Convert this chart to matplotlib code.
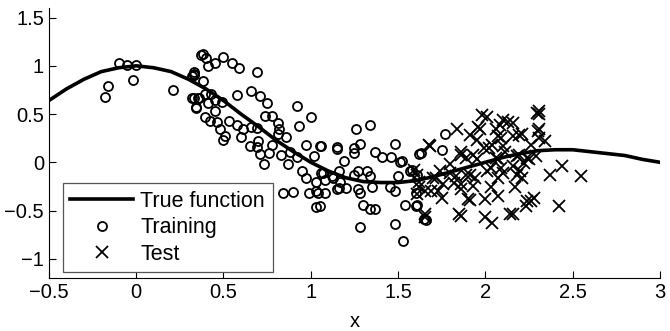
import matplotlib
matplotlib.use("Agg")
import matplotlib.pyplot as plt

plt.rcParams['font.family'] = ['Liberation Sans', 'DejaVu Sans']

# true function, every 0.1
curve_x = [-0.5, -0.4, -0.3, -0.2, -0.1, 0.0, 0.1, 0.2, 0.3, 0.4, 0.5, 0.6,
           0.7, 0.8, 0.9, 1.0, 1.1, 1.2, 1.3, 1.4, 1.5, 1.6, 1.7, 1.8,
           1.9, 2.0, 2.1, 2.2, 2.3, 2.4, 2.5, 2.6, 2.7, 2.8, 2.9, 3.0]
curve_y = [0.64, 0.76, 0.86, 0.94, 0.98, 1.0, 0.98, 0.94, 0.86, 0.76, 0.64, 0.50,
           0.37, 0.23, 0.11, 0.0, -0.09, -0.16, -0.20, -0.21, -0.21, -0.19, -0.15, -0.10,
           -0.05, 0.0, 0.05, 0.09, 0.12, 0.13, 0.13, 0.11, 0.09, 0.07, 0.03, 0.0]

train_x = [-0.10, -0.05, 0.0, -0.16, -0.18, -0.02, 0.21, 0.33, 0.32, 0.33, 0.34, 0.36,
           0.37, 0.385, 0.40, 0.45, 0.41, 0.50, 0.55, 0.59, 0.69, 0.33, 0.33, 0.385,
           0.32, 0.355, 0.395, 0.43, 0.41, 0.45, 0.49, 0.34, 0.45, 0.58, 0.66, 0.71,
           0.75, 0.92, 1.0, 0.74, 0.78, 0.395, 0.42, 0.46, 0.53, 0.58, 0.61, 0.66,
           0.69, 0.815, 0.82, 0.93, 0.48, 0.51, 0.50, 0.60, 0.815, 0.86, 0.70, 0.65,
           0.69, 0.97, 1.05, 1.15, 0.78, 0.71, 0.76, 0.73, 0.83, 0.88, 0.87, 0.92,
           1.02, 0.95, 0.97, 1.03, 1.07, 1.03, 1.04, 0.99, 1.08, 0.84, 0.90, 1.03,
           1.13, 1.15, 1.26, 1.34, 1.06, 1.15, 1.245, 1.28, 1.245, 1.19, 1.37, 1.41,
           1.46, 1.48, 1.51, 1.62, 1.06, 1.08, 1.05, 1.12, 1.16, 1.17, 1.16, 1.20,
           1.245, 1.27, 1.32, 1.34, 1.27, 1.28, 1.35, 1.30, 1.34, 1.365, 1.28, 1.455,
           1.48, 1.50, 1.54, 1.48, 1.53, 1.57, 1.61, 1.77, 1.63, 1.75, 1.52, 1.58,
           1.60, 1.65, 1.66, 1.60, 1.61]
train_y = [1.03, 1.01, 1.01, 0.79, 0.68, 0.85, 0.75, 0.92, 0.89, 0.67, 0.57, 0.67,
           1.11, 1.12, 1.08, 1.03, 1.0, 1.09, 1.03, 0.98, 0.94, 0.94, 0.90, 0.84,
           0.67, 0.67, 0.71, 0.71, 0.61, 0.65, 0.63, 0.56, 0.53, 0.70, 0.74, 0.69,
           0.61, 0.58, 0.47, 0.48, 0.48, 0.47, 0.43, 0.42, 0.43, 0.39, 0.35, 0.37,
           0.36, 0.405, 0.35, 0.38, 0.34, 0.27, 0.23, 0.26, 0.29, 0.26, 0.22, 0.165,
           0.155, 0.18, 0.165, 0.155, 0.18, 0.085, 0.10, -0.02, 0.08, 0.11, -0.02, 0.05,
           0.06, -0.09, -0.16, -0.20, -0.11, -0.30, -0.32, -0.32, -0.32, -0.32, -0.31, -0.46,
           -0.16, -0.28, 0.35, 0.39, 0.165, 0.14, 0.15, 0.19, 0.10, 0.01, 0.11, 0.05,
           0.05, 0.19, 0.0, 0.085, -0.11, -0.18, -0.45, -0.14, -0.09, -0.20, -0.27, -0.27,
           -0.13, -0.09, -0.09, -0.14, -0.28, -0.32, -0.26, -0.44, -0.48, -0.48, -0.67, -0.26,
           -0.30, -0.14, -0.44, -0.64, -0.82, -0.09, -0.44, 0.29, 0.10, 0.13, 0.01, -0.075,
           -0.45, -0.59, -0.60, -0.32, -0.13]

test_x = [1.675, 1.61, 1.59, 1.62, 1.655, 1.61, 1.70, 1.73, 1.84, 1.68, 2.01, 2.13,
          2.085, 1.97, 2.295, 2.16, 2.07, 1.95, 2.02, 2.10, 1.89, 1.86, 1.95, 2.07,
          2.18, 2.22, 1.80, 1.74, 1.83, 1.91, 2.01, 2.10, 2.18, 1.76, 1.86, 1.93,
          2.03, 1.75, 1.91, 2.07, 2.17, 2.26, 2.23, 2.14, 2.16, 1.86, 2.04, 1.62,
          1.655, 1.72, 2.31, 2.31, 2.30, 2.34, 2.21, 2.26, 2.29, 2.24, 2.20, 2.44,
          2.37, 2.55, 2.28, 2.24, 2.42, 2.21, 1.98, 1.96, 1.91, 1.86, 1.93, 1.99,
          1.80, 1.82, 1.89, 1.94, 1.86, 1.90, 1.69, 1.85, 2.0, 2.0, 1.655, 2.31,
          2.10, 2.16, 2.06, 2.19, 2.31, 2.09, 2.04, 2.11, 2.19, 2.25, 2.06, 2.03,
          2.09, 2.16, 2.075]
test_y = [0.18, -0.13, -0.075, -0.26, -0.57, -0.33, -0.16, -0.30, 0.35, 0.165, 0.47, 0.42,
          0.39, 0.35, 0.51, 0.27, 0.27, 0.23, 0.15, 0.165, 0.045, 0.08, 0.03, 0.03,
          0.06, -0.01, -0.02, -0.09, -0.14, -0.13, -0.09, -0.11, -0.13, -0.23, -0.23, -0.25,
          -0.26, -0.37, -0.39, -0.35, -0.26, -0.40, -0.45, -0.54, -0.54, -0.56, -0.63, -0.20,
          -0.30, -0.16, 0.53, 0.50, 0.32, 0.22, 0.29, 0.18, 0.06, 0.045, -0.09, -0.04,
          -0.13, -0.14, -0.37, -0.40, -0.45, -0.16, 0.49, 0.37, 0.285, 0.11, 0.08, 0.15,
          -0.11, -0.21, -0.13, -0.16, -0.28, -0.385, -0.30, -0.54, -0.57, -0.385, -0.54, 0.34,
          0.44, 0.405, 0.35, 0.285, 0.25, 0.25, 0.18, 0.11, 0.08, 0.03, 0.045, -0.06,
          -0.06, -0.04, -0.16]

fig = plt.figure(figsize=(6.7, 3.31), dpi=100)
ax = fig.add_axes([0.073, 0.16, 0.912, 0.816])

ax.plot(curve_x, curve_y, color='black', lw=2.6, label='True function', zorder=3)
ax.plot(train_x, train_y, 'o', mfc='none', mec='black', ms=6.5, mew=1.3,
        label='Training', zorder=2)
ax.plot(test_x, test_y, 'x', color='black', ms=8, mew=1.3, label='Test', zorder=2)

ax.set_xlim(-0.5, 3)
ax.set_ylim(-1.2, 1.6)
ax.set_xticks([-0.5, 0, 0.5, 1, 1.5, 2, 2.5, 3])
ax.set_xticklabels(['\u22120.5', '0', '0.5', '1', '1.5', '2', '2.5', '3'])
ax.set_yticks([-1, -0.5, 0, 0.5, 1, 1.5])
ax.set_yticklabels(['\u22121', '\u22120.5', '0', '0.5', '1', '1.5'])
ax.tick_params(direction='in', length=5, labelsize=14.5, width=0.8)
ax.spines['top'].set_visible(False)
ax.spines['right'].set_visible(False)
ax.set_xlabel('x', fontsize=14.5, labelpad=7)

leg = ax.legend(loc='lower left', bbox_to_anchor=(0.023, 0.022), fontsize=15.5,
                frameon=True, fancybox=False, edgecolor='#555555', framealpha=1,
                borderaxespad=0, handlelength=2.9, handletextpad=0.35,
                labelspacing=0.25, borderpad=0.35)
leg.get_frame().set_linewidth(0.9)
leg.set_zorder(5)

fig.savefig('out.png', dpi=100)
